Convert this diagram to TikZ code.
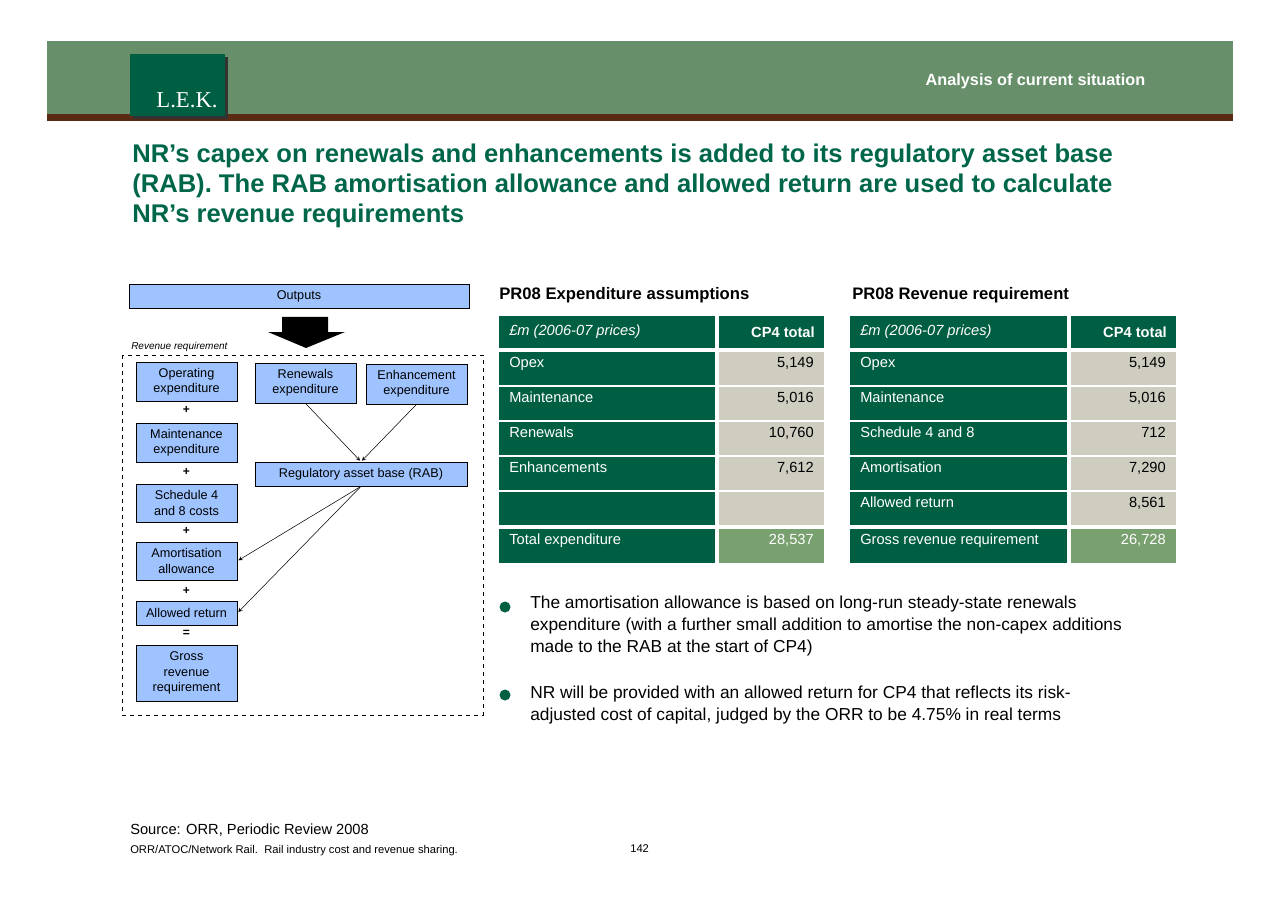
\documentclass[tikz,border=0pt]{standalone}
\usepackage{fontspec}
\setmainfont{Liberation Sans}
\newfontfamily\logofont{Liberation Serif}
\usetikzlibrary{positioning,arrows}
\definecolor{bandgreen}{HTML}{67906A}
\definecolor{bandbrown}{HTML}{5B2A14}
\definecolor{dkgreen}{HTML}{005E42}
\definecolor{titlegreen}{HTML}{00664A}
\definecolor{cellgrey}{HTML}{CFCCC0}
\definecolor{totgreen}{HTML}{79A06F}
\definecolor{boxblue}{HTML}{9EC3FF}
\newdimen\px \px=0.75pt
\begin{document}
\begin{tikzpicture}[x=0.75pt,y=-0.75pt,>=stealth,
    flow box/.style={draw,fill=boxblue,line width=0.5pt,align=center,font=\fontsize{9.5}{11.5}\selectfont,inner sep=0pt},
    op/.style={font=\fontsize{9}{10}\selectfont\bfseries},
    lab cell/.style={fill=dkgreen,text=white,anchor=north west,inner sep=0pt,font=\fontsize{11}{13}\selectfont},
    val cell/.style={fill=cellgrey,anchor=north west,inner sep=0pt,font=\fontsize{11}{13}\selectfont},
    thin arrow/.style={->,line width=0.4pt,shorten >=1pt}]
  \useasboundingbox (0,0) rectangle (1280,905);
  % header band
  \fill[bandgreen] (47,41) rectangle (1233,114);
  \fill[bandbrown] (47,114) rectangle (1233,121);
  \fill[black!80] (133,57) rectangle (228,119);
  \fill[dkgreen] (130,54) rectangle (225,116);
  \node[text=white,font=\logofont\fontsize{17}{20}\selectfont] (logo) at (187,100) {L.E.K.};
  \node[text=white,anchor=east,font=\fontsize{12.2}{14}\selectfont\bfseries] (section) at (1150,81) {Analysis of current situation};
  % title
  \node[anchor=north west,align=left,text=titlegreen,inner sep=0pt,font=\fontsize{19.2}{22.5}\selectfont\bfseries] (title) at (132,144)
    {NR’s capex on renewals and enhancements is added to its regulatory asset base\\
     (RAB). The RAB amortisation allowance and allowed return are used to calculate\\
     NR’s revenue requirements};
  % flow diagram
  \node[flow box,minimum width=340\px,minimum height=24\px] (outputs) at (299,296) {Outputs};
  \fill[black] (282,317) -- (328,317) -- (328,332) -- (345,332) -- (306,348) -- (268,332) -- (282,332) -- cycle;
  \node[anchor=west,inner sep=0pt,font=\fontsize{7.5}{9}\selectfont\itshape] (revlabel) at (131,347) {Revenue requirement};
  \draw[dashed,line width=0.4pt] (122,355) rectangle (483,715);
  \node[flow box,minimum width=101\px,minimum height=39\px] (opex) at (186.5,381.5) {Operating\\expenditure};
  \node[op] (p1) at (186.5,410) {+};
  \node[flow box,minimum width=101\px,minimum height=39\px] (maint) at (186.5,442.5) {Maintenance\\expenditure};
  \node[op] (p2) at (186.5,472) {+};
  \node[flow box,minimum width=101\px,minimum height=38\px] (sched) at (186.5,503) {Schedule 4\\and 8 costs};
  \node[op] (p3) at (186.5,531) {+};
  \node[flow box,minimum width=101\px,minimum height=38\px] (amort) at (186.5,561) {Amortisation\\allowance};
  \node[op] (p4) at (186.5,591) {+};
  \node[flow box,minimum width=101\px,minimum height=24\px] (ret) at (186.5,613) {Allowed return};
  \node[op] (eq) at (186.5,633) {=};
  \node[flow box,minimum width=101\px,minimum height=56\px] (gross) at (186.5,673) {Gross\\revenue\\requirement};
  \node[flow box,minimum width=101\px,minimum height=40\px] (renew) at (305.5,383) {Renewals\\expenditure};
  \node[flow box,minimum width=101\px,minimum height=40\px] (enh) at (416.5,384) {Enhancement\\expenditure};
  \node[flow box,minimum width=212\px,minimum height=24\px] (rab) at (361,474) {Regulatory asset base (RAB)};
  \draw[thin arrow] (renew.south) -- (rab.north);
  \draw[thin arrow] (enh.south) -- (rab.north);
  \draw[thin arrow] (rab.south) -- (amort.east);
  \draw[thin arrow] (rab.south) -- (ret.east);
  % tables
  \node[anchor=west,inner sep=0pt,font=\fontsize{12.5}{14}\selectfont\bfseries] (exphead) at (499,295) {PR08 Expenditure assumptions};
  \node[anchor=west,inner sep=0pt,font=\fontsize{12.5}{14}\selectfont\bfseries] (revhead) at (852,295) {PR08 Revenue requirement};
  \foreach \x/\w/\tab in {499/216/e,850/217/r}{
    \node[lab cell,minimum width=\w\px,minimum height=32\px] (\tab h) at (\x,316) {};
    \node[anchor=west,text=white,font=\fontsize{11}{13}\selectfont\itshape,inner sep=0pt] at (\x+10,332) {£m (2006-07 prices)};
  }
  \foreach \x/\tab in {719/e,1071/r}{
    \node[lab cell,minimum width=105\px,minimum height=32\px] (\tab hv) at (\x,316) {};
    \node[text=white,font=\fontsize{11}{13}\selectfont\bfseries,inner sep=0pt,anchor=east] at (\x+96,332) {CP4 total};
  }
  \foreach \i/\y/\lab/\val in {1/352/Opex/{5,149},2/387/Maintenance/{5,016},3/422/Renewals/{10,760},4/457/Enhancements/{7,612},5/492//}{
    \node[lab cell,minimum width=216\px,minimum height=33\px] (e\i) at (499,\y) {};
    \node[anchor=north west,text=white,inner sep=0pt,font=\fontsize{11}{13}\selectfont] at (509,\y+5) {\lab};
    \node[val cell,minimum width=105\px,minimum height=33\px] (ev\i) at (719,\y) {};
    \node[anchor=north east,inner sep=0pt,font=\fontsize{11}{13}\selectfont] at (814,\y+5) {\val};
  }
  \foreach \i/\y/\lab/\val in {1/352/Opex/{5,149},2/387/Maintenance/{5,016},3/422/Schedule 4 and 8/712,4/457/Amortisation/{7,290},5/492/Allowed return/{8,561}}{
    \node[lab cell,minimum width=217\px,minimum height=33\px] (r\i) at (850,\y) {};
    \node[anchor=north west,text=white,inner sep=0pt,font=\fontsize{11}{13}\selectfont] at (860,\y+5) {\lab};
    \node[val cell,minimum width=105\px,minimum height=33\px] (rv\i) at (1071,\y) {};
    \node[anchor=north east,inner sep=0pt,font=\fontsize{11}{13}\selectfont] at (1166,\y+5) {\val};
  }
  \node[lab cell,minimum width=216\px,minimum height=34\px] (etot) at (499,529) {};
  \node[anchor=north west,text=white,inner sep=0pt,font=\fontsize{11}{13}\selectfont] at (509,534) {Total expenditure};
  \node[val cell,fill=totgreen,minimum width=105\px,minimum height=34\px] (evtot) at (719,529) {};
  \node[anchor=north east,text=white,inner sep=0pt,font=\fontsize{11}{13}\selectfont] at (814,534) {28,537};
  \node[lab cell,minimum width=217\px,minimum height=34\px] (rtot) at (850,529) {};
  \node[anchor=north west,text=white,inner sep=0pt,font=\fontsize{11}{13}\selectfont] at (860,534) {Gross revenue requirement};
  \node[val cell,fill=totgreen,minimum width=105\px,minimum height=34\px] (rvtot) at (1071,529) {};
  \node[anchor=north east,text=white,inner sep=0pt,font=\fontsize{11}{13}\selectfont] at (1166,534) {26,728};
  % bullets
  \fill[dkgreen] (505,607) circle (5.5);
  \fill[dkgreen] (505,695) circle (5.5);
  \node[anchor=north west,align=left,inner sep=0pt,font=\fontsize{13}{16.5}\selectfont] (b1) at (530,596)
    {The amortisation allowance is based on long-run steady-state renewals\\
     expenditure (with a further small addition to amortise the non-capex additions\\
     made to the RAB at the start of CP4)};
  \node[anchor=north west,align=left,inner sep=0pt,font=\fontsize{13}{16.5}\selectfont] (b2) at (530,686)
    {NR will be provided with an allowed return for CP4 that reflects its risk-\\
     adjusted cost of capital, judged by the ORR to be 4.75\% in real terms};
  % footer
  \node[anchor=west,inner sep=0pt,font=\fontsize{11}{12}\selectfont] (source) at (130,830) {Source: ORR, Periodic Review 2008};
  \node[anchor=west,inner sep=0pt,font=\fontsize{8.4}{9}\selectfont] (foot) at (130,851) {ORR/ATOC/Network Rail.\ \ Rail industry cost and revenue sharing.};
  \node[anchor=west,inner sep=0pt,font=\fontsize{8.4}{9}\selectfont] (page) at (630,849) {142};
\end{tikzpicture}
\end{document}
